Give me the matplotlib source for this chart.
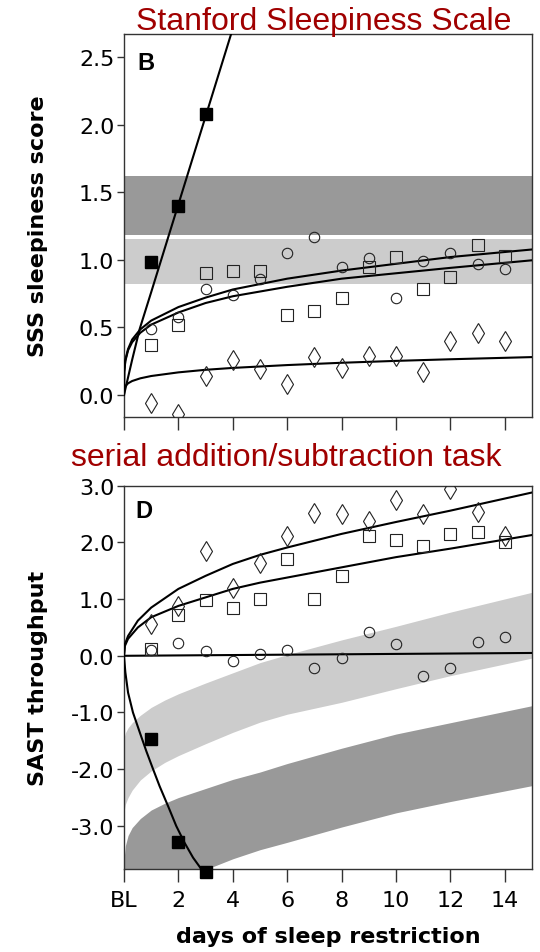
import matplotlib
matplotlib.use("Agg")
import matplotlib.pyplot as plt

plt.rcParams["font.family"] = ["DejaVu Sans"]
plt.rcParams["axes.unicode_minus"] = False

# ---- panel B: Stanford Sleepiness Scale ----
days = [1, 2, 3, 4, 5, 6, 7, 8, 9, 10, 11, 12, 13, 14]
sss_circle = [0.49, 0.58, 0.78, 0.74, 0.86, 1.05, 1.17, 0.95, 1.01, 0.72, 0.99, 1.05, 0.97, 0.93]
sss_square = [0.37, 0.52, 0.90, 0.92, 0.92, 0.59, 0.62, 0.72, 0.95, 1.02, 0.78, 0.87, 1.11, 1.03]
sss_diamond = [-0.06, -0.14, 0.14, 0.26, 0.19, 0.08, 0.28, 0.20, 0.29, 0.29, 0.17, 0.40, 0.46, 0.40]
sss_fill_days = [1, 2, 3]
sss_fill = [0.98, 1.40, 2.08]

# fitted curves
sss_curve_x = [0, 0.01, 0.05, 0.15, 0.3, 0.6, 1, 2, 3, 4, 6, 8, 10, 12, 15]
sss_curve_hi = [0, 0.175, 0.26, 0.34, 0.41, 0.485, 0.55, 0.65, 0.72, 0.78, 0.86, 0.92, 0.97, 1.02, 1.076]
sss_curve_lo = [0, 0.17, 0.25, 0.33, 0.39, 0.46, 0.52, 0.61, 0.68, 0.73, 0.80, 0.86, 0.90, 0.94, 0.996]
sss_curve_dia = [0, 0.043, 0.065, 0.086, 0.103, 0.123, 0.14, 0.167, 0.186, 0.20, 0.221, 0.238, 0.252, 0.264, 0.28]
sss_fill_line_x = [0, 0.3, 0.58, 1, 2, 3, 4.2]
sss_fill_line_y = [0, 0.26, 0.49, 0.76, 1.41, 2.06, 2.84]

sss_band_dark = (1.18, 1.62)
sss_band_light = (0.82, 1.15)

# ---- panel D: serial addition/subtraction task ----
sast_circle = [0.11, 0.22, 0.08, -0.10, 0.03, 0.10, -0.22, -0.04, 0.42, 0.20, -0.36, -0.22, 0.25, 0.34]
sast_square = [0.12, 0.72, 0.98, 0.85, 1.01, 1.71, 1.01, 1.41, 2.11, 2.05, 1.93, 2.15, 2.19, 2.00]
sast_diamond = [0.56, 0.88, 1.84, 1.19, 1.63, 2.12, 2.52, 2.50, 2.38, 2.74, 2.50, 2.94, 2.54, 2.12]
sast_fill_days = [1, 2, 3]
sast_fill = [-1.47, -3.29, -3.81]

sast_curve_x = [0, 0.03, 0.15, 0.51, 1, 2, 3, 4, 5, 6, 8, 10, 12, 15]
sast_curve_hi = [0, 0.20, 0.35, 0.62, 0.85, 1.18, 1.41, 1.62, 1.78, 1.91, 2.15, 2.36, 2.56, 2.88]
sast_curve_lo = [0, 0.17, 0.30, 0.50, 0.68, 0.88, 1.03, 1.18, 1.29, 1.38, 1.56, 1.74, 1.89, 2.13]
sast_flat_x = [0, 15]
sast_flat_y = [0.0, 0.05]
sast_fill_line_x = [0, 0.05, 0.15, 0.33, 0.58, 0.82, 1.07, 1.31, 1.62, 1.92, 2.23, 2.54, 2.84, 3.1]
sast_fill_line_y = [0, -0.29, -0.65, -1.0, -1.35, -1.68, -2.0, -2.3, -2.65, -3.0, -3.3, -3.56, -3.76, -3.95]

band_x = [0, 0.05, 0.15, 0.3, 0.6, 1, 1.5, 2, 3, 4, 5, 6, 8, 10, 12, 15]
light_top = [-1.45, -1.36, -1.27, -1.18, -1.05, -0.91, -0.78, -0.67, -0.48, -0.30, -0.12, 0.02, 0.28, 0.52, 0.77, 1.12]
light_bot = [-2.75, -2.62, -2.50, -2.37, -2.19, -2.03, -1.88, -1.76, -1.55, -1.35, -1.17, -1.03, -0.82, -0.58, -0.35, -0.04]
dark_top = [-3.60, -3.35, -3.17, -3.03, -2.87, -2.72, -2.60, -2.50, -2.34, -2.18, -2.05, -1.90, -1.63, -1.38, -1.18, -0.88]
dark_bot = [-5.0, -5.0, -4.9, -4.8, -4.6, -4.4, -4.2, -4.05, -3.77, -3.58, -3.42, -3.29, -3.02, -2.77, -2.57, -2.29]

xticks = [0, 2, 4, 6, 8, 10, 12, 14]
xticklabels = ["BL", "2", "4", "6", "8", "10", "12", "14"]

DARK = "#999999"
LIGHT = "#cccccc"
RED = "#a00000"
SPINE = "#333333"

fig = plt.figure(figsize=(5.4, 9.53), dpi=100)
ax1 = fig.add_axes([0.2296, 0.5614, 0.7556, 0.4019])
ax2 = fig.add_axes([0.2296, 0.0871, 0.7556, 0.4022])


def draw_points(ax, yc, ys, yd, fd, fv):
    ax.plot(days, yd, linestyle="none", marker="d", ms=10.5, mfc="none", mec="#222222", mew=0.8, zorder=4)
    ax.plot(days, ys, linestyle="none", marker="s", ms=8, mfc="none", mec="#222222", mew=0.8, zorder=4)
    ax.plot(days, yc, linestyle="none", marker="o", ms=7.5, mfc="none", mec="#222222", mew=0.8, zorder=4)
    ax.plot(fd, fv, linestyle="none", marker="s", ms=9, mfc="black", mec="black", zorder=5, clip_on=False)


# panel B
ax1.axhspan(*sss_band_dark, color=DARK, lw=0, zorder=0)
ax1.axhspan(*sss_band_light, color=LIGHT, lw=0, zorder=0)
for yy in [sss_curve_hi, sss_curve_lo, sss_curve_dia]:
    ax1.plot(sss_curve_x, yy, color="black", lw=1.5, zorder=3)
ax1.plot(sss_fill_line_x, sss_fill_line_y, color="black", lw=1.5, zorder=3)
draw_points(ax1, sss_circle, sss_square, sss_diamond, sss_fill_days, sss_fill)
ax1.set_xlim(0, 15)
ax1.set_ylim(-0.163, 2.67)
ax1.set_yticks([0, 0.5, 1.0, 1.5, 2.0, 2.5])
ax1.set_yticklabels(["%.1f" % v for v in [0, 0.5, 1.0, 1.5, 2.0, 2.5]])
ax1.set_xticks(xticks)
ax1.tick_params(axis="x", labelbottom=False, length=9)
ax1.set_ylabel("SSS sleepiness score", fontsize=16, fontweight="bold")
ax1.text(0.034, 0.955, "B", transform=ax1.transAxes, fontsize=17, fontweight="bold",
         family="Liberation Sans", va="top", ha="left")

# panel D
ax2.fill_between(band_x, light_bot, light_top, color=LIGHT, lw=0, zorder=0)
ax2.fill_between(band_x, dark_bot, dark_top, color=DARK, lw=0, zorder=0)
ax2.plot(sast_curve_x, sast_curve_hi, color="black", lw=1.5, zorder=3)
ax2.plot(sast_curve_x, sast_curve_lo, color="black", lw=1.5, zorder=3)
ax2.plot(sast_flat_x, sast_flat_y, color="black", lw=1.5, zorder=3)
ax2.plot(sast_fill_line_x, sast_fill_line_y, color="black", lw=1.5, zorder=3)
draw_points(ax2, sast_circle, sast_square, sast_diamond, sast_fill_days, sast_fill)
ax2.set_xlim(0, 15)
ax2.set_ylim(-3.76, 3.0)
ax2.set_yticks([-3, -2, -1, 0, 1, 2, 3])
ax2.set_yticklabels(["%.1f" % v for v in [-3, -2, -1, 0, 1, 2, 3]])
ax2.set_xticks(xticks)
ax2.set_xticklabels(xticklabels)
ax2.tick_params(axis="x", length=9, pad=6)
ax2.set_ylabel("SAST throughput", fontsize=16, fontweight="bold")
ax2.set_xlabel("days of sleep restriction", fontsize=16, fontweight="bold", labelpad=12)
ax2.text(0.029, 0.965, "D", transform=ax2.transAxes, fontsize=17, fontweight="bold",
         family="Liberation Sans", va="top", ha="left")

for ax in [ax1, ax2]:
    for s in ax.spines.values():
        s.set_color(SPINE)
        s.set_linewidth(1)
    ax.tick_params(axis="both", direction="out", width=1, color=SPINE, labelsize=16)
    ax.tick_params(axis="y", length=5, pad=2)
    ax.yaxis.set_label_coords(-0.185, 0.5)

fig.text(0.599, 0.9685, "Stanford Sleepiness Scale", color=RED, fontsize=23,
         family="Liberation Sans", ha="center", va="baseline")
fig.text(0.531, 0.5105, "serial addition/subtraction task", color=RED, fontsize=23,
         family="Liberation Sans", ha="center", va="baseline")

fig.savefig("out.png", dpi=100)
